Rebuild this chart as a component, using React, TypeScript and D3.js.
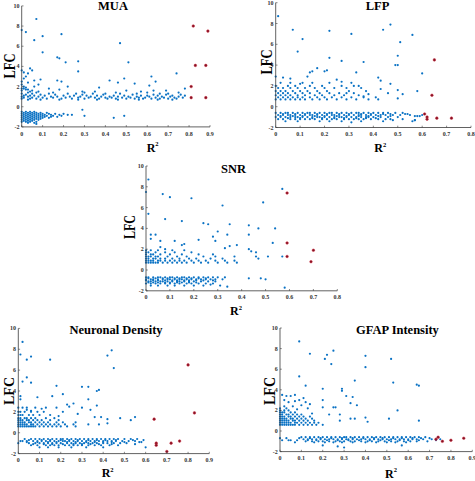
import React from 'react';
import * as d3 from 'd3';

// ---------- DATA ----------
// Scattered points: flat pairs [R² × 100, LFC × 10]
// Dense bands: rows [LFC × 10, [R² × 100 ...]]

const muaScatter = [7,87, 0,76, 2,74, 10,70, 19,72, 6,66, 10,54, 17,49, 18,48, 21,44, 27,45, 47,63, 51,44, 27,35, 74,33, 0,36, 1,34, 4,38, 5,36, 3,33, 9,27, 6,26, 2,30, 1,28, 0,25, 17,26, 19,25, 42,26, 46,24, 49,28, 62,30, 64,25, 54,23, 61,21, 22,20, 37,19, 78,18, 69,16, 63,16, 13,18, 18,17, 29,15, 35,15, 50,16, 57,15, 66,13, 0,22, 1,20, 2,19, 0,18, 3,17, 5,16, 8,15, 6,20, 3,24, 8,22, 0,16, 2,17, 4,15, 1,18, 30,-9, 44,-11, 49,-9, 29,-3];
const muaBands: [number, number[]][] = [
  [7, [3,9,18,27,36,46,56,65,72]],
  [8, [0,4,7,12,19,24,30,37,41,45,50,54,58,62,66,70,74]],
  [9, [1,5,10,15,21,27,32,35,40,43,48,52,56,59,64,68,73,77]],
  [10, [0,3,8,14,17,23,28,33,38,42,46,51,55,61,67,71,75]],
  [11, [1,4,6,11,20,25,31,36,44,49,57,60,65,72,78]],
  [12, [2,9,16,29,39,53,63,69,76]],
  [13, [0,5,13,22,26,34,40,47,55,70]],
  [14, [3,7,15,30,45,60,75]],
  [-5, [0,2,4,6]],
  [-6, [1,3,5,7,9,12]],
  [-7, [0,2,4,6,8,10,13,16,20]],
  [-8, [1,3,5,7,9,11,14,18,22,24]],
  [-9, [0,2,4,6,8,10,12,15,19]],
  [-10, [1,3,5,7,9,11,14,17]],
  [-11, [0,2,4,6,8,10,13]],
  [-12, [1,3,5,7,9]],
  [-13, [0,2,4,6,8]],
  [-14, [1,3,5]],
  [-15, [0,2,4,7]],
  [-16, [3,6]],
  [-17, [7]],
];
const muaRed = [82,80, 89,75, 83,41, 88,41, 81,20, 81,9, 88,9];

const lfpScatter = [1,87, 7,74, 11,65, 9,53, 22,73, 31,70, 44,74, 47,79, 56,69, 51,62, 22,47, 27,44, 36,43, 50,49, 49,40, 50,40, 60,32, 33,33, 17,37, 15,34, 14,33, 20,34, 21,35, 13,29, 42,28, 43,25, 47,22, 43,17, 50,16, 52,12, 58,15, 50,8, 42,7, 35,18, 32,20, 0,29, 3,28, 6,27, 10,22, 25,26, 27,24, 36,10, 38,12, 46,13, 29,13, 57,-13, 59,-9];
const lfpBands: [number, number[]][] = [
  [7, [0,2,4,6,8,10,12,15,18,21,25,29,33,38]],
  [9, [1,3,5,7,9,11,14,17,20,23,27,31,36,41]],
  [11, [0,2,4,6,9,12,16,19,24,28,34]],
  [13, [1,3,5,8,11,14,18,22,26,32]],
  [15, [0,2,4,7,10,13,17,21,30,37]],
  [18, [1,3,6,9,12,16,20,24,29]],
  [20, [0,5,8,14,19,27,34]],
  [23, [2,6,11,15,22,31]],
  [-6, [0,2,4,5,7,9,11,13,14,16,18,20,22,23,25,27,29,31,33,34,36,38,40,42,44,46,49,52]],
  [-7, [3,8,12,17,21,26,30,35,39,44,47,53,54]],
  [-8, [1,3,5,6,8,10,12,14,15,17,19,21,23,24,26,28,30,32,34,35,37,39,41,43,45,48,51,55,60]],
  [-9, [2,7,11,16,20,25,29,34,38,42,47,57,58]],
  [-10, [0,2,4,6,8,9,11,13,15,17,18,20,22,24,26,27,29,31,33,35,37,38,40,43,46,50]],
  [-11, [5,10,15,19,24,28,33,37,41]],
  [-12, [1,3,6,8,10,12,14,16,19,21,23,25,28,30,32,34,36,39,42,45,47,52]],
  [-13, [48,57]],
  [-14, [4,9,18,22,27,35,44,56]],
  [-15, [31]],
];
const lfpRed = [65,45, 64,11, 61,-7, 62,-10, 62,-12, 66,-11, 72,-11];

const snrScatter = [1,87, 0,75, 7,73, 10,70, 19,69, 1,54, 8,49, 15,47, 24,45, 26,44, 32,62, 57,78, 49,65, 43,43, 35,44, 54,40, 47,40, 2,34, 4,34, 6,28, 2,30, 12,28, 15,24, 16,25, 22,29, 28,32, 29,28, 30,37, 34,34, 35,23, 33,21, 38,24, 37,13, 43,20, 44,18, 46,17, 46,13, 47,11, 43,34, 53,26, 51,13, 57,13, 8,20, 6,22, 33,-7, 43,-8, 48,-8, 50,-9, 58,-17, 34,-16, 27,-14];
const snrBands: [number, number[]][] = [
  [7, [0,1,2,3,4,5,7,9,11,13,15,17,20,23,26,30,34,38]],
  [9, [0,1,2,3,5,6,8,10,12,14,16,19,22,25,29,33,37]],
  [11, [0,1,3,4,6,8,11,14,18,21,27,32]],
  [13, [0,1,2,4,5,9,13,17,24,29]],
  [15, [0,2,3,6,10,15,22,28]],
  [17, [0,1,4,8,12,19]],
  [19, [0,2,5,11,16]],
  [-7, [0,1,3,5,6,8,10,11,13,15,16,18,20,22,24,26,28,30]],
  [-8, [1,4,7,9,12,14,17,19,22,25]],
  [-9, [0,2,3,5,7,9,10,12,14,15,17,19,21,23,25,27,29,32]],
  [-10, [0,3,5,8,11,13,16,18,21,24,28]],
  [-11, [1,2,4,6,7,9,11,13,14,16,18,20,23,26,29]],
  [-12, [1,3,5,8,10,13,15,18,21]],
  [-13, [0,2,4,6,8,10,12,14,17,19,22,25,28]],
  [-15, [2,5,9,12,16,20,24,31]],
];
const snrRed = [59,74, 59,26, 59,13, 70,19, 69,8];

const ndScatter = [2,87, 1,75, 4,70, 6,73, 15,70, 42,74, 44,79, 45,62, 4,53, 2,49, 6,48, 18,45, 21,37, 30,44, 33,44, 37,40, 38,41, 33,32, 9,34, 16,35, 1,35, 1,32, 4,22, 6,21, 11,23, 13,24, 18,24, 23,27, 24,25, 26,28, 30,24, 34,22, 37,26, 39,15, 36,15, 42,13, 48,14, 53,12, 55,15, 42,9, 27,10, 33,8, 38,8, 28,18, 21,20, 19,16, 57,-9, 59,-7, 55,-11, 1,-8, 0,-10];
const ndBands: [number, number[]][] = [
  [6, [0,1,2,3,4,5,6,7,8,10,12,14,16,18,20,23,27]],
  [8, [0,1,2,3,4,6,7,9,11,13,15,17,19,22,26]],
  [10, [0,1,2,3,5,6,8,10,12,14,18,21]],
  [12, [0,1,2,4,5,7,9,11,15,19]],
  [14, [0,1,3,4,6,8,13,17]],
  [17, [0,1,2,5,7,10,15]],
  [20, [0,1,3,6,9,12]],
  [24, [0,2,4,8]],
  [-6, [3,6,8,10,12,14,16,18,20,21,23,25,27,29,31,33,35,37,39,41,43,45,47,50,53,56]],
  [-7, [5,11,15,20,24,28,33,37,41,46,54]],
  [-8, [2,4,7,9,11,13,15,17,19,21,22,24,26,28,30,32,34,36,38,40,42,44,46,49,52,55]],
  [-9, [4,9,14,18,23,27,32,36,40,44,50,58]],
  [-10, [5,8,10,12,14,16,18,20,23,25,27,29,31,33,35,37,40,42,45,48,51]],
  [-11, [7,12,16,21,26,30,34,38,44]],
  [-12, [6,9,13,15,17,19,22,24,26,28,30,33,36,39,43,47]],
  [-14, [10,14,19,25,32,40,60]],
];
const ndRed = [80,65, 83,19, 64,13, 65,-10, 65,-12, 70,-18, 72,-10, 76,-8];

const gfapScatter = [9,87, 14,75, 21,70, 22,74, 25,78, 24,65, 40,73, 40,62, 52,70, 9,53, 12,44, 20,41, 35,49, 53,47, 64,45, 65,44, 29,41, 29,39, 31,34, 34,33, 36,25, 33,27, 25,23, 26,23, 20,30, 20,23, 23,16, 28,16, 33,12, 35,12, 28,10, 40,13, 41,9, 51,12, 65,10, 55,20, 1,35, 3,34, 5,34, 7,35, 4,28, 7,29, 2,30, 9,30, 11,32, 12,28, 14,26, 10,25, 6,24, 2,24, 0,22, 3,22, 8,21, 13,22, 15,17, 7,-11, 4,-9, 75,-8, 74,-6, 69,-10, 27,-15, 30,-16, 20,-14, 57,-14];
const gfapBands: [number, number[]][] = [
  [6, [0,1,2,3,4,5,6,7,9,11,13,15,17,20]],
  [8, [0,1,2,3,4,5,7,8,10,12,14,16,18]],
  [10, [0,1,2,3,4,6,7,9,11,13,16]],
  [12, [0,1,2,3,5,6,8,10,12,15]],
  [14, [0,1,2,4,5,7,9,11,14]],
  [16, [0,1,3,4,6,8,10]],
  [18, [0,1,2,5,7]],
  [20, [0,2,4]],
  [-6, [10,12,14,16,18,20,22,24,26,28,30,31,33,35,37,39,41,43,45,47,49,51,53,55,57,59,61,63,65,68]],
  [-7, [0,3,9,14,19,24,29,34,39,44,48,53,57,62,66,70]],
  [-8, [11,13,15,17,19,21,23,25,27,29,31,32,34,36,38,40,42,44,46,48,50,52,54,56,58,60,62,64,67,71]],
  [-9, [1,5,8,13,17,22,27,32,37,42,47,51,56,60,65,73]],
  [-10, [12,15,18,20,23,26,28,30,33,35,38,41,43,46,49,52,55,58,61,64]],
  [-11, [16,21,25,29,34,40,45,50,54,59]],
];
const gfapRed = [73,-8, 74,-6, 76,-10, 80,-9, 86,-7];

const yTicks = [-2, 0, 2, 4, 6, 8, 10];

// ---------- LAYOUT ----------
type Panel = {
  title: string; scatter: number[]; bands: [number, number[]][]; red: number[];
  xMax: number; x0: number; x1: number; yTop: number; yBot: number;
  tX: number; tY: number; lX: number; lY: number; lLen: number; lSize: number; rX: number; rY: number;
};

const panels: Panel[] = [
  { title: 'MUA', scatter: muaScatter, bands: muaBands, red: muaRed, xMax: 0.9, x0: 21.7, x1: 210, yTop: 5.9, yBot: 126.9, tX: 113, tY: 10, lX: 15, lY: 66, lLen: 25, lSize: 17, rX: 146.7, rY: 151.5 },
  { title: 'LFP', scatter: lfpScatter, bands: lfpBands, red: lfpRed, xMax: 0.8, x0: 275.7, x1: 471, yTop: 2.7, yBot: 127.5, tX: 377.5, tY: 10, lX: 271.7, lY: 62, lLen: 25, lSize: 17, rX: 374.3, rY: 152 },
  { title: 'SNR', scatter: snrScatter, bands: snrBands, red: snrRed, xMax: 0.8, x0: 146, x1: 337.3, yTop: 166, yBot: 290.8, tX: 233.5, tY: 172.5, lX: 135, lY: 227, lLen: 24, lSize: 17, rX: 230, rY: 315 },
  { title: 'Neuronal Density', scatter: ndScatter, bands: ndBands, red: ndRed, xMax: 0.9, x0: 18.3, x1: 209.3, yTop: 328.4, yBot: 453.6, tX: 116, tY: 333.5, lX: 14, lY: 391, lLen: 28, lSize: 15, rX: 101.7, rY: 477 },
  { title: 'GFAP Intensity', scatter: gfapScatter, bands: gfapBands, red: gfapRed, xMax: 0.9, x0: 280, x1: 472.3, yTop: 328, yBot: 451.6, tX: 397.5, tY: 333.5, lX: 275, lY: 391, lLen: 28, lSize: 17, rX: 385, rY: 477.5 },
];

const SERIF = '"Liberation Serif", "Times New Roman", serif';
const BLUE = '#0a72c4';

function pairs(flat: number[]): [number, number][] {
  const out: [number, number][] = [];
  for (let i = 0; i < flat.length; i += 2) out.push([flat[i] / 100, flat[i + 1] / 10]);
  return out;
}
function bandPoints(rows: [number, number[]][]): [number, number][] {
  const out: [number, number][] = [];
  rows.forEach(([yy, xs]) => xs.forEach((xx) => out.push([xx / 100, yy / 10])));
  return out;
}

function PanelView({ p }: { p: Panel }) {
  const x = d3.scaleLinear().domain([0, p.xMax]).range([p.x0, p.x1]);
  const y = d3.scaleLinear().domain([-2, 10]).range([p.yBot, p.yTop]);
  const xTicks = d3.range(0, Math.round(p.xMax * 10) + 1).map((i) => i / 10);
  const blue = [...bandPoints(p.bands), ...pairs(p.scatter)];
  const red = pairs(p.red);
  const fmt = (v: number) => (v === 0 ? '0' : String(+v.toFixed(1)));
  return (
    <g>
      {blue.map(([a, b], i) => (
        <circle key={'b' + i} cx={x(a)} cy={y(b)} r={1.1} fill={BLUE} />
      ))}
      {red.map(([a, b], i) => (
        <circle key={'r' + i} cx={x(a)} cy={y(b)} r={1.3} fill="#7d1426" stroke="#d42a3c" strokeWidth={0.5} />
      ))}
      <line x1={x(0)} x2={x(p.xMax)} y1={y(-2)} y2={y(-2)} stroke="#3a3a3a" strokeWidth={0.8} />
      <line x1={x(0)} x2={x(0)} y1={y(-2)} y2={y(10)} stroke="#3a3a3a" strokeWidth={0.8} />
      {xTicks.map((t) => (
        <g key={'xt' + t}>
          <line x1={x(t)} x2={x(t)} y1={y(-2)} y2={y(-2) - 1.8} stroke="#3a3a3a" strokeWidth={0.6} />
          <text x={x(t)} y={y(-2) + 8.6} fontSize={6} fontWeight="bold" fontFamily={SERIF} textAnchor="middle" fill="#333">{fmt(t)}</text>
        </g>
      ))}
      {yTicks.map((t) => (
        <g key={'yt' + t}>
          <line x1={x(0)} x2={x(0) + 1.8} y1={y(t)} y2={y(t)} stroke="#3a3a3a" strokeWidth={0.6} />
          <text x={x(0) - 2.2} y={y(t) + 2} fontSize={6} fontWeight="bold" fontFamily={SERIF} textAnchor="end" fill="#333">{t}</text>
        </g>
      ))}
      <text x={p.tX} y={p.tY} fontSize={12.5} fontWeight="bold" fontFamily={SERIF} textAnchor="middle" fill="#000">{p.title}</text>
      <text transform={`translate(${p.lX},${p.lY}) rotate(-90)`} fontSize={p.lSize} fontWeight="bold" fontFamily={SERIF} textAnchor="middle" textLength={p.lLen} lengthAdjust="spacingAndGlyphs" fill="#000">LFC</text>
      <text x={p.rX} y={p.rY} fontSize={12} fontWeight="bold" fontFamily={SERIF} fill="#000">
        R<tspan dy={-5.5} fontSize={6.5}>2</tspan>
      </text>
    </g>
  );
}

export default function App() {
  return (
    <svg width={475} height={481} style={{ position: 'absolute', left: 0, top: 0, background: '#fff' }}>
      <rect width={475} height={481} fill="#fff" />
      {panels.map((p) => (
        <PanelView key={p.title} p={p} />
      ))}
    </svg>
  );
}
